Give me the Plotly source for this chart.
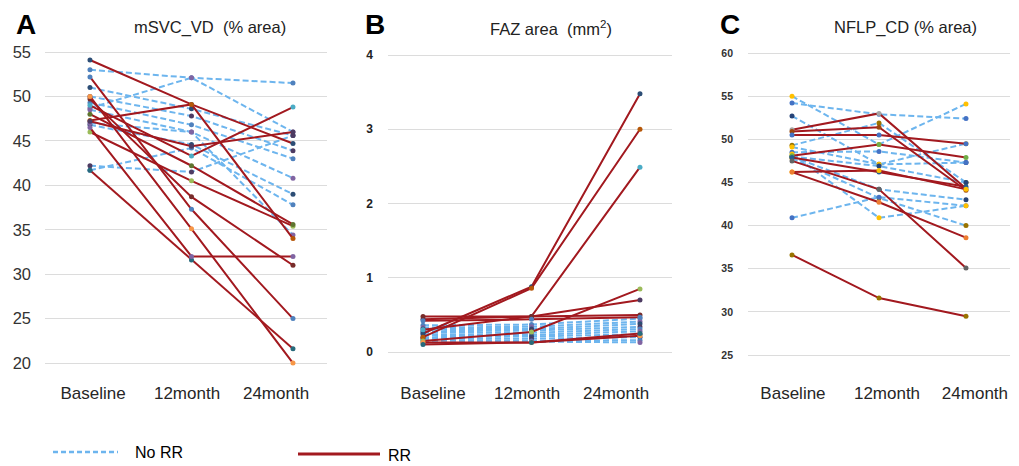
import plotly.graph_objects as go

# ---------------- data ----------------
timepoints = ["Baseline", "12month", "24month"]

# Panel A: mSVC_VD (% area)
svc_no_rr = [
    [53.0, 52.1, 51.5],
    [48.7, 52.1, 46.0],
    [51.0, 48.6, 45.6],
    [50.0, 47.8, 43.9],
    [49.3, 46.8, 43.0],
    [48.5, 46.0, 40.8],
    [46.8, 44.6, 39.0],
    [42.2, 41.5, 45.6],
    [41.7, 44.2, 37.8],
    [47.0, 46.0, 34.4],
]
svc_rr = [
    [54.1, 49.1, 44.7],
    [47.3, 49.1, 34.0],
    [49.0, 43.3, 48.8],
    [47.2, 44.4, 46.0],
    [46.0, 40.5, 35.4],
    [49.7, 38.7, 31.0],
    [52.2, 37.3, 25.0],
    [50.0, 35.1, 20.0],
    [41.7, 31.6, 21.6],
    [46.5, 32.0, 32.0],
    [48.0, 42.2, 35.6],
]

# Panel B: FAZ area (mm2)
faz_no_rr = [
    [0.36, 0.37, 0.45],
    [0.33, 0.34, 0.41],
    [0.31, 0.31, 0.38],
    [0.28, 0.29, 0.34],
    [0.26, 0.26, 0.31],
    [0.23, 0.23, 0.28],
    [0.20, 0.21, 0.24],
    [0.18, 0.18, 0.20],
    [0.16, 0.15, 0.16],
    [0.13, 0.14, 0.13],
]
faz_rr = [
    [0.25, 0.88, 3.48],
    [0.20, 0.86, 3.00],
    [0.30, 0.48, 2.49],
    [0.44, 0.48, 0.70],
    [0.15, 0.27, 0.85],
    [0.48, 0.48, 0.50],
    [0.42, 0.44, 0.47],
    [0.13, 0.13, 0.22],
    [0.10, 0.13, 0.25],
]

# Panel C: NFLP_CD (% area)
nflp_no_rr = [
    [54.2, 52.9, 52.4],
    [55.0, 49.4, 54.1],
    [52.7, 47.1, 47.3],
    [49.3, 51.9, 45.0],
    [48.5, 48.6, 47.3],
    [49.1, 47.1, 49.5],
    [48.0, 44.2, 43.0],
    [47.8, 43.2, 40.0],
    [40.9, 43.3, 42.3],
    [48.3, 40.9, 42.3],
    [48.0, 46.9, 45.0],
]
nflp_rr = [
    [36.6, 31.6, 29.5],
    [51.1, 53.0, 44.3],
    [50.9, 51.4, 44.1],
    [50.5, 50.5, 49.5],
    [48.1, 49.4, 47.9],
    [47.9, 46.2, 44.5],
    [46.2, 46.4, 44.2],
    [47.5, 44.2, 35.1],
    [46.2, 42.7, 38.6],
]

panel_titles = ["mSVC_VD  (% area)", "FAZ area  (mm<sup>2</sup>)", "NFLP_CD (% area)"]
panel_letters = ["A", "B", "C"]
y_ticks_a = [20, 25, 30, 35, 40, 45, 50, 55]
y_ticks_b = [0, 1, 2, 3, 4]
y_ticks_c = [25, 30, 35, 40, 45, 50, 55, 60]
legend_labels = ["No RR", "RR"]

# ---------------- style / layout helpers ----------------
BLUE = "#6DB5EE"
RED = "#A2191F"
GRID = "#DCDCDC"
pal07 = ["#4F81BD", "#C0504D", "#9BBB59", "#8064A2", "#4BACC6", "#F79646",
         "#2C4D75", "#772C2A", "#5F7530", "#4D3B62", "#276A7C", "#B65708"]
pal13 = ["#4472C4", "#ED7D31", "#A5A5A5", "#FFC000", "#5B9BD5", "#70AD47",
         "#264478", "#9E480E", "#636363", "#997300", "#255E91", "#43682B"]

OFF = 8          # page body margin
W, H = 1019 - OFF, 466 - OFF


def px(x):
    return (x - OFF) / W


def py(y):
    return 1 - (y - OFF) / H


xpos = list(range(len(timepoints)))

fig = go.Figure()

panels = [
    (svc_no_rr, svc_rr, "x", "y", pal07),
    (faz_no_rr, faz_rr, "x2", "y2", pal07),
    (nflp_no_rr, nflp_rr, "x3", "y3", pal13),
]

for no_rr, rr, xa, ya, pal in panels:
    k = 0
    for vals in no_rr:
        c = pal[k % len(pal)]
        k += 3
        fig.add_trace(go.Scatter(
            x=xpos, y=vals, xaxis=xa, yaxis=ya, mode="lines+markers",
            line=dict(color=BLUE, width=2, dash="6px,3px"),
            marker=dict(size=5, color=c), cliponaxis=False, showlegend=False,
            hoverinfo="y"))
    for vals in rr:
        c = pal[k % len(pal)]
        k += 5
        fig.add_trace(go.Scatter(
            x=xpos, y=vals, xaxis=xa, yaxis=ya, mode="lines+markers",
            line=dict(color=RED, width=2),
            marker=dict(size=5, color=c), cliponaxis=False, showlegend=False,
            hoverinfo="y"))

FONT = "Liberation Sans, Arial, sans-serif"


def xaxis(domain, rng, tickpos, size, standoff, anchor):
    return dict(domain=domain, range=rng, tickmode="array", tickvals=tickpos,
                ticktext=timepoints, showgrid=False, zeroline=False, showline=False,
                ticks="", ticklabelstandoff=standoff, anchor=anchor,
                tickfont=dict(family=FONT, size=size, color="#262626"))


def yaxis(domain, rng, tv, size, bold, color, standoff, anchor):
    return dict(domain=domain, range=rng, tickmode="array", tickvals=tv,
                ticktext=[("<b>%s</b>" % t) if bold else str(t) for t in tv],
                showgrid=True, gridcolor=GRID, gridwidth=1, zeroline=False,
                showline=False, ticks="", ticklabelstandoff=standoff, anchor=anchor,
                tickfont=dict(family=FONT, size=size, color=color))


fig.update_layout(
    width=W, height=H, margin=dict(l=0, r=0, t=0, b=0),
    paper_bgcolor="white", plot_bgcolor="white", showlegend=False,
    xaxis=xaxis([px(45), px(327)], [-0.443, 2.335], [0.03, 0.956, 1.833], 17, 0, "y"),
    yaxis=yaxis([py(380.8), py(38.67)], [18, 56.5], y_ticks_a, 16.5, False, "#333333", 13, "x"),
    xaxis2=xaxis([px(388), px(672)], [-0.3226, 2.295], [0.092, 0.959, 1.779], 17, 10, "y2"),
    yaxis2=yaxis([py(370.6), py(47.6)], [-0.25, 4.1], y_ticks_b, 12, True, "#222222", 14, "x2"),
    xaxis3=xaxis([px(748), px(1010)], [-0.506, 2.506], [0.011, 1.092, 2.103], 17, 9, "y3"),
    yaxis3=yaxis([py(372.3), py(44.4)], [23, 61], y_ticks_c, 10.5, True, "#333333", 14, "x3"),
)

# panel letters and titles
letter_x = [26, 375, 730]
title_x = [210, 551, 905]
for i in range(3):
    fig.add_annotation(x=px(letter_x[i]), y=py(8.5), xref="paper", yref="paper",
                       text="<b>%s</b>" % panel_letters[i], showarrow=False,
                       font=dict(family=FONT, size=28, color="black"),
                       xanchor="center", yanchor="top", borderpad=0)
    fig.add_annotation(x=px(title_x[i]), y=py(28), xref="paper", yref="paper",
                       text=panel_titles[i], showarrow=False,
                       font=dict(family=FONT, size=16.5, color="#222222"),
                       xanchor="center", yanchor="middle")

# legend (drawn manually)
fig.add_shape(type="line", xref="paper", yref="paper",
              x0=px(53), x1=px(118), y0=py(452), y1=py(452),
              line=dict(color=BLUE, width=2.5, dash="5px,3px"))
fig.add_annotation(x=px(133), y=py(452), xref="paper", yref="paper",
                   text=legend_labels[0], showarrow=False, xanchor="left", yanchor="middle",
                   font=dict(family=FONT, size=16, color="black"))
fig.add_shape(type="line", xref="paper", yref="paper",
              x0=px(298), x1=px(380), y0=py(454), y1=py(454),
              line=dict(color=RED, width=3))
fig.add_annotation(x=px(386), y=py(455), xref="paper", yref="paper",
                   text=legend_labels[1], showarrow=False, xanchor="left", yanchor="middle",
                   font=dict(family=FONT, size=16, color="black"))

fig.write_html("out.html")
